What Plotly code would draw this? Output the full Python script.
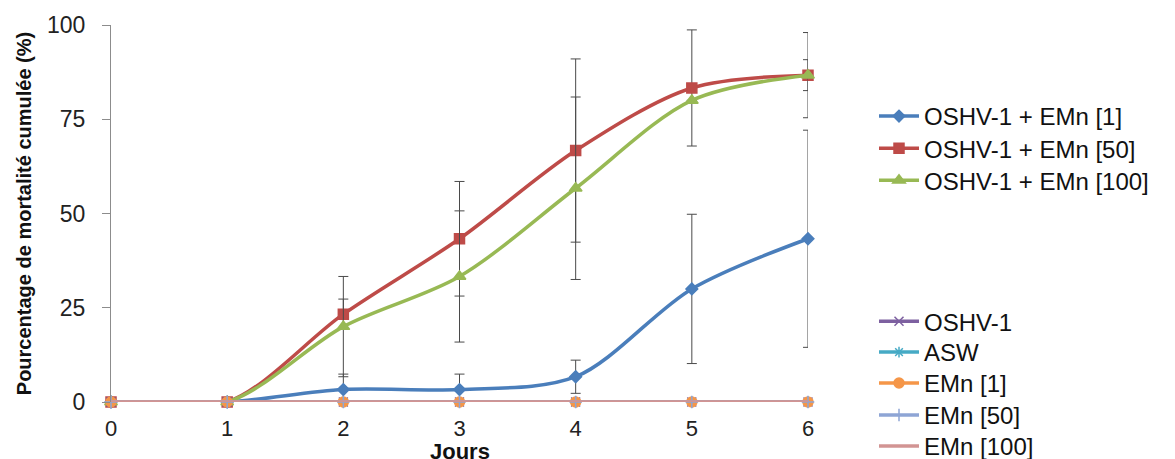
import plotly.graph_objects as go

# Days post-exposure
jours = [0, 1, 2, 3, 4, 5, 6]

# Cumulative mortality (%) per condition
oshv_emn1 = [0, 0, 3.3, 3.3, 6.7, 30.0, 43.3]
oshv_emn50 = [0, 0, 23.3, 43.3, 66.7, 83.3, 86.7]
oshv_emn100 = [0, 0, 20.0, 33.3, 56.7, 80.0, 86.7]
oshv1 = [0, 0, 0, 0, 0, 0, 0]
asw = [0, 0, 0, 0, 0, 0, 0]
emn1 = [0, 0, 0, 0, 0, 0, 0]
emn50 = [0, 0, 0, 0, 0, 0, 0]
emn100 = [0, 0, 0, 0, 0, 0, 0]

# Standard deviations
sd_oshv_emn1 = [0, 0, 4.1, 4.1, 4.4, 19.8, 28.8]
sd_oshv_emn50 = [0, 0, 4.0, 15.2, 24.3, 15.4, 4.1]
sd_oshv_emn100 = [0, 0, 13.3, 17.4, 24.2, 0, 11.3]

y_ticks = [0, 25, 50, 75, 100]

FONT = "Liberation Sans, Arial, sans-serif"
ERR_COLOR = "#4a4a4a"

series = [
    ("OSHV-1 + EMn [1]", oshv_emn1, sd_oshv_emn1, "#4A7EBB", "diamond", 9),
    ("OSHV-1 + EMn [50]", oshv_emn50, sd_oshv_emn50, "#BE4B48", "square", 10),
    ("OSHV-1 + EMn [100]", oshv_emn100, sd_oshv_emn100, "#98B954", "triangle-up", 11),
    ("OSHV-1", oshv1, None, "#7D60A0", "x-thin", 9),
    ("ASW", asw, None, "#46AAC5", "asterisk", 9),
    ("EMn [1]", emn1, None, "#F59648", "circle", 10),
    ("EMn [50]", emn50, None, "#8EA5D5", "cross-thin", 9),
    ("EMn [100]", emn100, None, "#D29493", None, 0),
]

# Vertical anchor (paper units) of each legend entry: two blocks on the right
legend_tops = [0.817, 0.732, 0.647, 0.273, 0.191, 0.109, 0.024, -0.058]
legend_font = dict(family=FONT, size=24, color="#111111")

fig = go.Figure()
legend_layout = {}
for i, (name, vals, sd, color, symbol, size) in enumerate(series):
    leg_id = "legend" if i == 0 else f"legend{i + 1}"
    legend_layout[leg_id] = dict(
        x=1.0947, y=legend_tops[i], xanchor="left", yanchor="top",
        font=legend_font, bgcolor="rgba(0,0,0,0)", itemwidth=40,
    )
    marker = dict(color=color, size=size,
                  line=dict(color=color, width=1.5))
    if symbol is not None:
        marker["symbol"] = symbol
    err = None
    if sd is not None:
        err = dict(type="data", array=sd, visible=True,
                   color=ERR_COLOR, thickness=1, width=5)
    fig.add_trace(go.Scatter(
        x=jours, y=vals, name=name,
        mode="lines+markers" if symbol is not None else "lines",
        line=dict(color=color, width=3.5, shape="spline", smoothing=0.9),
        marker=marker,
        error_y=err,
        cliponaxis=False,
        legend=leg_id,
    ))

fig.update_layout(
    width=1175, height=459,
    margin=dict(l=111, r=367, t=25, b=57, autoexpand=False),
    paper_bgcolor="white", plot_bgcolor="white",
    font=dict(family=FONT, size=22, color="#222222"),
    showlegend=True,
    **legend_layout,
    xaxis=dict(
        range=[0, 6], tickmode="array", tickvals=jours,
        ticktext=[str(j) for j in jours],
        showline=False, showgrid=False, zeroline=False,
        ticks="outside", ticklen=7, tickcolor="rgba(0,0,0,0)",
        tickfont=dict(family=FONT, size=22, color="#222222"),
    ),
    yaxis=dict(
        range=[0, 100], tickmode="array", tickvals=y_ticks,
        ticktext=[str(v) for v in y_ticks],
        showline=True, linecolor="#8c8c8c", linewidth=1,
        ticks="outside", ticklen=8, tickcolor="#8c8c8c",
        ticklabelstandoff=12,
        showgrid=False, zeroline=False,
        tickfont=dict(family=FONT, size=23, color="#222222"),
        title=dict(text="<b>Pourcentage de mortalité cumulée (%)</b>",
                   standoff=10,
                   font=dict(family=FONT, size=20, color="#111111")),
    ),
    annotations=[dict(
        text="<b>Jours</b>", xref="paper", yref="paper",
        x=0.5, y=-0.092, xanchor="center", yanchor="top",
        showarrow=False,
        font=dict(family=FONT, size=22, color="#111111"),
    )],
)

fig.write_html("out.html")
